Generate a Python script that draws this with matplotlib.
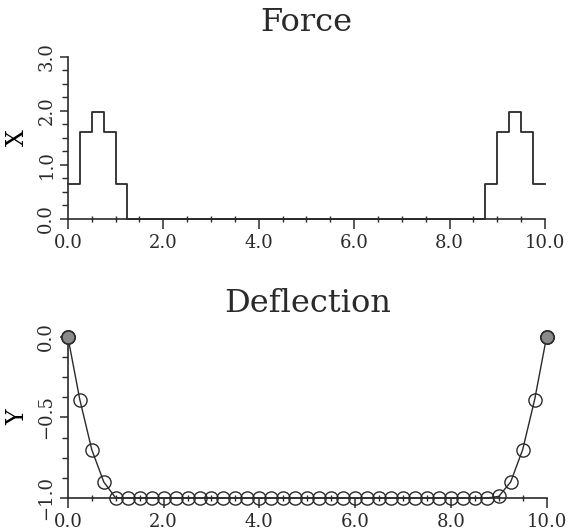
import matplotlib.pyplot as plt
import numpy as np
from matplotlib.ticker import MultipleLocator, FuncFormatter

# ---- data --------------------------------------------------------- #
force_edges = [0.0, 0.25, 0.5, 0.75, 1.0, 1.25, 8.75, 9.0, 9.25, 9.5, 9.75, 10.0]
force_vals = [0.65, 1.62, 1.98, 1.62, 0.65, 0.0, 0.65, 1.62, 1.98, 1.62, 0.65, 0.65]

defl_x = np.linspace(0.0, 10.0, 41)
defl_y = [0.0, -0.39, -0.70, -0.90, -1.0,
          -1.0, -1.0, -1.0, -1.0, -1.0, -1.0, -1.0, -1.0, -1.0, -1.0,
          -1.0, -1.0, -1.0, -1.0, -1.0, -1.0, -1.0, -1.0, -1.0, -1.0,
          -1.0, -1.0, -1.0, -1.0, -1.0, -1.0, -1.0, -1.0, -1.0, -1.0,
          -1.0, -0.99, -0.90, -0.70, -0.39, 0.0]

INK = "#2a2a2a"
TICK_SIZE = 13

plt.rcParams.update({
    "font.family": "DejaVu Serif",
    "axes.edgecolor": INK,
    "xtick.color": INK,
    "ytick.color": INK,
    "text.color": INK,
})


def _fmt(v, _pos):
    s = f"{v:.1f}"
    return s.replace("-", "\u2212")


def style_axes(ax, ymajor, yminor, ylim):
    ax.spines["top"].set_visible(False)
    ax.spines["right"].set_visible(False)
    ax.spines["left"].set_linewidth(1.2)
    ax.spines["bottom"].set_linewidth(1.2)
    ax.set_xlim(0, 10)
    ax.set_ylim(*ylim)
    ax.xaxis.set_major_locator(MultipleLocator(2.0))
    ax.xaxis.set_minor_locator(MultipleLocator(0.5))
    ax.yaxis.set_major_locator(MultipleLocator(ymajor))
    ax.yaxis.set_minor_locator(MultipleLocator(yminor))
    ax.xaxis.set_major_formatter(FuncFormatter(_fmt))
    ax.yaxis.set_major_formatter(FuncFormatter(_fmt))
    ax.tick_params(axis="x", which="major", direction="out", length=7, width=1.1, pad=4)
    ax.tick_params(axis="x", which="minor", direction="inout", length=5, width=1.0)
    ax.tick_params(axis="y", which="major", direction="out", length=6, width=1.1, pad=3)
    ax.tick_params(axis="y", which="minor", direction="out", length=4, width=1.0)
    for lab in ax.get_xticklabels():
        lab.set_fontsize(TICK_SIZE)
    for lab in ax.get_yticklabels():
        lab.set_fontsize(TICK_SIZE)
        lab.set_rotation(90)
        lab.set_va("center")


fig = plt.figure(figsize=(5.70, 5.31), dpi=100)

# ---- Force (step plot) --------------------------------------------- #
ax1 = fig.add_axes([0.119, 0.5876, 0.837, 0.3051])
ax1.step(force_edges, force_vals, where="post", color=INK, linewidth=1.3, clip_on=False)
style_axes(ax1, 1.0, 0.25, (0, 3))
ax1.set_title("Force", fontsize=23, pad=19)
ax1.set_ylabel("X", fontsize=17, labelpad=6)

# ---- Deflection ---------------------------------------------------- #
ax2 = fig.add_axes([0.119, 0.0621, 0.840, 0.3039])
ax2.plot(defl_x, defl_y, color=INK, linewidth=1.0, marker="o", markersize=9.5,
         markerfacecolor="none", markeredgecolor=INK, markeredgewidth=1.0,
         clip_on=False, zorder=3)
ends = [0, len(defl_x) - 1]
ax2.plot(defl_x[ends], [defl_y[i] for i in ends], linestyle="none", marker="o",
         markersize=9.5, markerfacecolor="#8a8a8a", markeredgecolor=INK,
         markeredgewidth=1.2, clip_on=False, zorder=4)
style_axes(ax2, 0.5, 0.125, (-1, 0))
ax2.set_title("Deflection", fontsize=23, pad=18)
ax2.set_ylabel("Y", fontsize=17, labelpad=6)

fig.savefig("out.png", dpi=100)
